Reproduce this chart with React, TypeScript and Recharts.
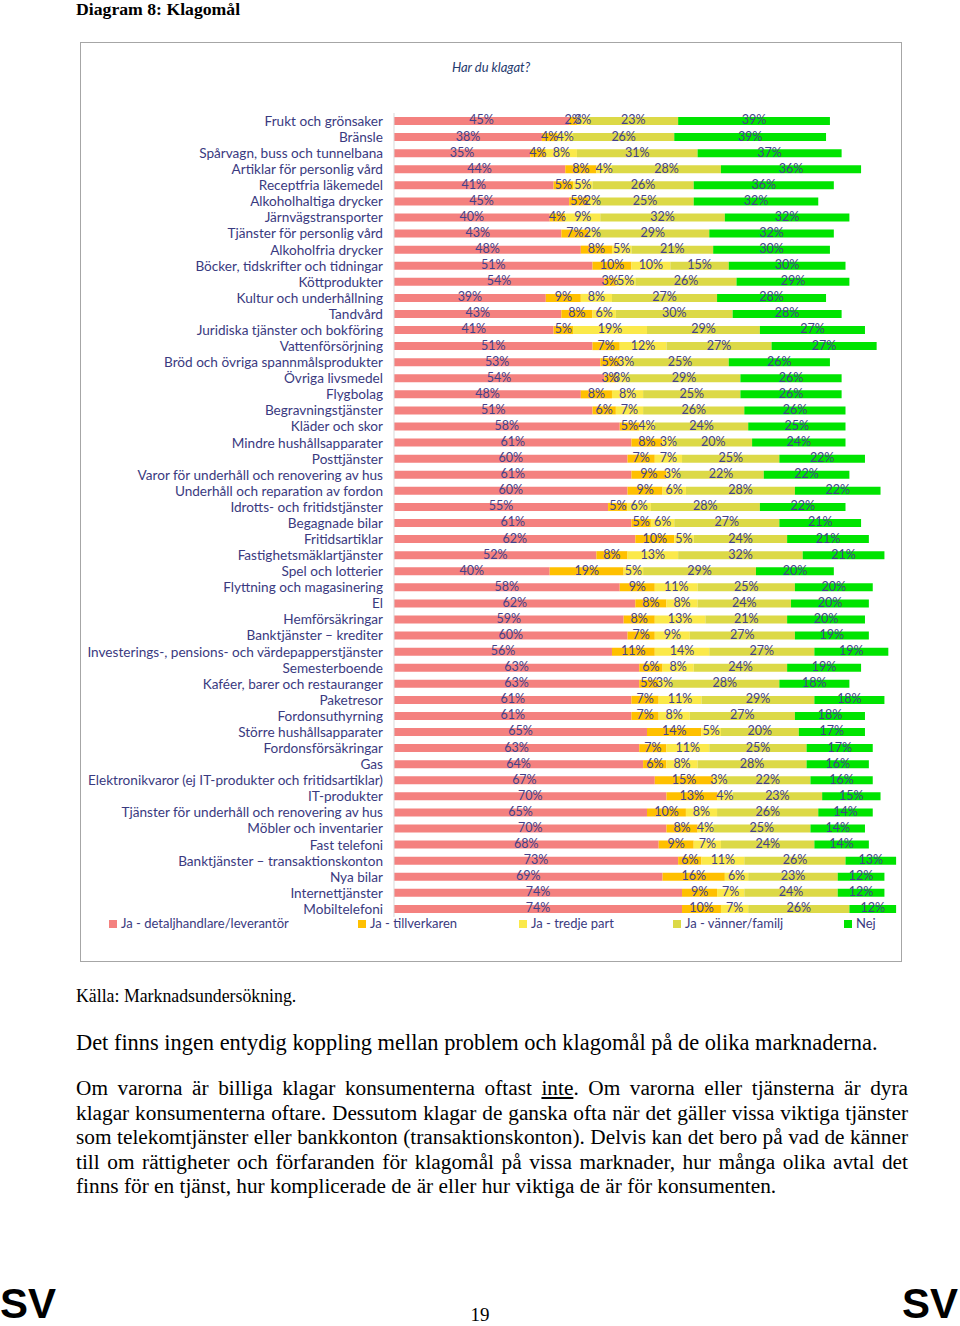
import { BarChart, Bar, XAxis, YAxis, LabelList, Legend } from "recharts";

const categories = [
  "Frukt och grönsaker",
  "Bränsle",
  "Spårvagn, buss och tunnelbana",
  "Artiklar för personlig vård",
  "Receptfria läkemedel",
  "Alkoholhaltiga drycker",
  "Järnvägstransporter",
  "Tjänster för personlig vård",
  "Alkoholfria drycker",
  "Böcker, tidskrifter och tidningar",
  "Köttprodukter",
  "Kultur och underhållning",
  "Tandvård",
  "Juridiska tjänster och bokföring",
  "Vattenförsörjning",
  "Bröd och övriga spannmålsprodukter",
  "Övriga livsmedel",
  "Flygbolag",
  "Begravningstjänster",
  "Kläder och skor",
  "Mindre hushållsapparater",
  "Posttjänster",
  "Varor för underhåll och renovering av hus",
  "Underhåll och reparation av fordon",
  "Idrotts- och fritidstjänster",
  "Begagnade bilar",
  "Fritidsartiklar",
  "Fastighetsmäklartjänster",
  "Spel och lotterier",
  "Flyttning och magasinering",
  "El",
  "Hemförsäkringar",
  "Banktjänster – krediter",
  "Investerings-, pensions- och värdepapperstjänster",
  "Semesterboende",
  "Kaféer, barer och restauranger",
  "Paketresor",
  "Fordonsuthyrning",
  "Större hushållsapparater",
  "Fordonsförsäkringar",
  "Gas",
  "Elektronikvaror (ej IT-produkter och fritidsartiklar)",
  "IT-produkter",
  "Tjänster för underhåll och renovering av hus",
  "Möbler och inventarier",
  "Fast telefoni",
  "Banktjänster – transaktionskonton",
  "Nya bilar",
  "Internettjänster",
  "Mobiltelefoni",
];

const detaljhandlare = [45, 38, 35, 44, 41, 45, 40, 43, 48, 51, 54, 39, 43, 41, 51, 53, 54, 48, 51, 58, 61, 60, 61, 60, 55, 61, 62, 52, 40, 58, 62, 59, 60, 56, 63, 63, 61, 61, 65, 63, 64, 67, 70, 65, 70, 68, 73, 69, 74, 74];
const tillverkaren = [2, 4, 4, 8, 5, 5, 4, 7, 8, 10, 3, 9, 8, 5, 7, 5, 3, 8, 6, 5, 8, 7, 9, 9, 5, 5, 10, 8, 19, 9, 8, 8, 7, 11, 6, 5, 7, 7, 14, 7, 6, 15, 13, 10, 8, 9, 6, 16, 9, 10];
const tredjePart = [3, 4, 8, 4, 5, 2, 9, 2, 5, 10, 5, 8, 6, 19, 12, 3, 3, 8, 7, 4, 3, 7, 3, 6, 6, 6, 5, 13, 5, 11, 8, 13, 9, 14, 8, 3, 11, 8, 5, 11, 8, 3, 4, 8, 4, 7, 11, 6, 7, 7];
const vannerFamilj = [23, 26, 31, 28, 26, 25, 32, 29, 21, 15, 26, 27, 30, 29, 27, 25, 29, 25, 26, 24, 20, 25, 22, 28, 28, 27, 24, 32, 29, 25, 24, 21, 27, 27, 24, 28, 29, 27, 20, 25, 28, 22, 23, 26, 25, 24, 26, 23, 24, 26];
const nej = [39, 39, 37, 36, 36, 32, 32, 32, 30, 30, 29, 28, 28, 27, 27, 26, 26, 26, 26, 25, 24, 22, 22, 22, 22, 21, 21, 21, 20, 20, 20, 20, 19, 19, 19, 18, 18, 18, 17, 17, 16, 16, 15, 14, 14, 14, 13, 12, 12, 12];

const seriesKeys = ["detaljhandlare", "tillverkaren", "tredjePart", "vannerFamilj", "nej"];
const seriesNames = [
  "Ja - detaljhandlare/leverantör",
  "Ja - tillverkaren",
  "Ja - tredje part",
  "Ja - vänner/familj",
  "Nej",
];
const colors = ["#f4817f", "#ffc000", "#fbe94a", "#dcd947", "#00e400"];

const rows = categories.map((name, i) => ({
  name,
  detaljhandlare: detaljhandlare[i],
  tillverkaren: tillverkaren[i],
  tredjePart: tredjePart[i],
  vannerFamilj: vannerFamilj[i],
  nej: nej[i],
}));

const navy = "#3a3a80";
const chartFont = "Lato, 'Open Sans', sans-serif";
const serif = "'Liberation Serif', 'Times New Roman', serif";

// legend item x positions, relative to the chart's left edge
const legendX = [29, 278, 439, 593, 764];

function ChartLegend() {
  return (
    <div style={{ position: "relative", height: 12, fontFamily: chartFont, fontSize: 13, color: navy }}>
      {seriesNames.map((n, i) => (
        <div key={n} style={{ position: "absolute", left: legendX[i], top: -3, whiteSpace: "nowrap", lineHeight: "18px" }}>
          <span style={{ display: "inline-block", width: 8, height: 8, background: colors[i], marginRight: 4 }} />
          {n}
        </div>
      ))}
    </div>
  );
}

// single-line category tick, no wrapping
function CategoryTick(props: any) {
  const { x, y, payload } = props;
  return (
    <text x={x} y={y} dy="0.36em" textAnchor="end" fontSize={13.6} fill={navy} fontFamily={chartFont}>
      {payload.value}
    </text>
  );
}

const para2 = [
  <>Om varorna är billiga klagar konsumenterna oftast <u>inte</u>. Om varorna eller tjänsterna är dyra</>,
  <>klagar konsumenterna oftare. Dessutom klagar de ganska ofta när det gäller vissa viktiga tjänster</>,
  <>som telekomtjänster eller bankkonton (transaktionskonton). Delvis kan det bero på vad de känner</>,
  <>till om rättigheter och förfaranden för klagomål på vissa marknader, hur många olika avtal det</>,
  <>finns för en tjänst, hur komplicerade de är eller hur viktiga de är för konsumenten.</>,
];

export default function App() {
  return (
    <div style={{ position: "absolute", left: 0, top: 0, width: 960, height: 1326, overflow: "hidden", background: "#fff" }}>
      <div style={{ position: "absolute", left: 76, top: 0, fontFamily: serif, fontWeight: "bold", fontSize: 17.7, lineHeight: "18px" }}>
        Diagram 8: Klagomål
      </div>

      <div style={{ position: "absolute", left: 80, top: 42, width: 820, height: 918, border: "1px solid #a6a6a6" }} />
      <div style={{ position: "absolute", left: 80, width: 822, top: 59, textAlign: "center", fontFamily: chartFont, fontStyle: "italic", fontSize: 13, color: "#1f3a6e" }}>
        Har du klagat?
      </div>

      <div style={{ position: "absolute", left: 80, top: 100 }}>
        <BarChart
          width={820}
          height={829}
          data={rows}
          layout="vertical"
          margin={{ top: 13, right: 0, bottom: 0, left: 0 }}
        >
          <XAxis type="number" hide domain={[0, 130]} />
          <YAxis
            type="category"
            dataKey="name"
            width={314}
            interval={0}
            tickLine={false}
            tickSize={0}
            tickMargin={11}
            axisLine={{ stroke: "#d9d9d9" }}
            tick={<CategoryTick />}
          />
          <Legend verticalAlign="bottom" content={() => <ChartLegend />} />
          {seriesKeys.map((k, i) => (
            <Bar key={k} dataKey={k} name={seriesNames[i]} stackId="a" fill={colors[i]} barSize={8} isAnimationActive={false}>
              <LabelList
                dataKey={k}
                position="center"
                formatter={(v: any) => `${v}%`}
                style={{ fontSize: 12.5, fill: "#43418a", fontFamily: chartFont }}
                dy={-1}
              />
            </Bar>
          ))}
        </BarChart>
      </div>

      <div style={{ position: "absolute", left: 76, top: 986, fontFamily: serif, fontSize: 17.8 }}>
        Källa: Marknadsundersökning.
      </div>
      <div style={{ position: "absolute", left: 76, top: 1030, fontFamily: serif, fontSize: 22.4, whiteSpace: "nowrap" }}>
        Det finns ingen entydig koppling mellan problem och klagomål på de olika marknaderna.
      </div>
      <div style={{ position: "absolute", left: 76, top: 1076, width: 832, fontFamily: serif, fontSize: 21.3, lineHeight: "24.5px" }}>
        {para2.map((line, i) => (
          <div
            key={i}
            style={{
              whiteSpace: "nowrap",
              textAlign: "justify",
              textAlignLast: i < para2.length - 1 ? "justify" : "left",
            }}
          >
            {line}
          </div>
        ))}
      </div>

      <div style={{ position: "absolute", left: 0, top: 1283, fontFamily: "'Liberation Sans', Arial, sans-serif", fontWeight: "bold", fontSize: 42, lineHeight: "42px" }}>
        SV
      </div>
      <div style={{ position: "absolute", right: 2, top: 1283, fontFamily: "'Liberation Sans', Arial, sans-serif", fontWeight: "bold", fontSize: 42, lineHeight: "42px" }}>
        SV
      </div>
      <div style={{ position: "absolute", left: 0, width: 960, top: 1304, textAlign: "center", fontFamily: serif, fontSize: 19 }}>
        19
      </div>
    </div>
  );
}
